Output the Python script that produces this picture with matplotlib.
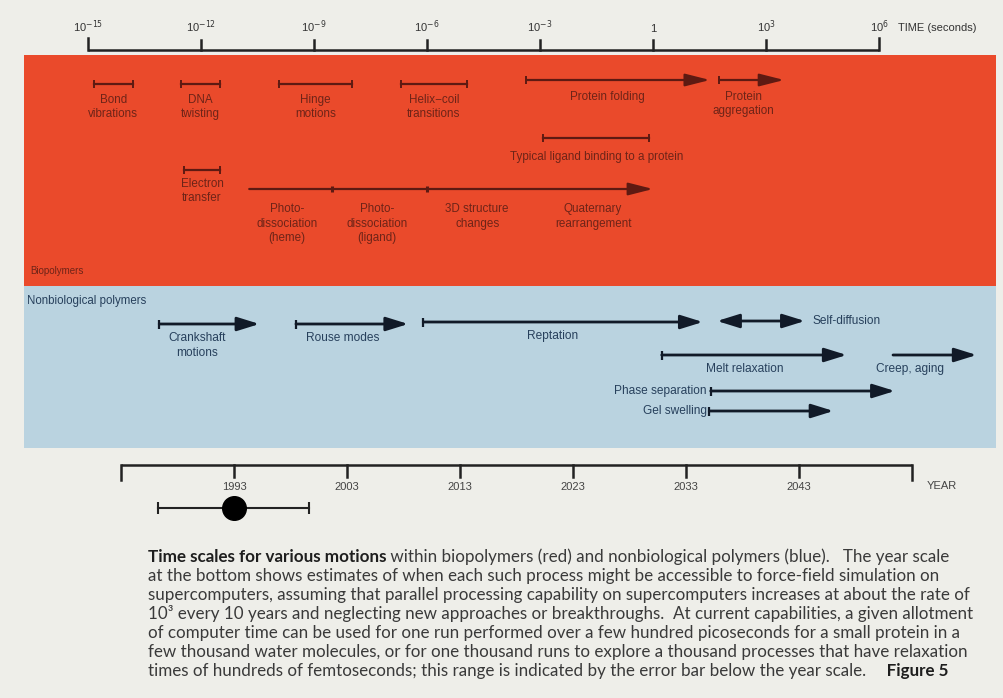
import numpy as np
import matplotlib
matplotlib.use('Agg')
import matplotlib.pyplot as plt
from matplotlib.patches import Rectangle

# ---------------- data (time exponents: log10 seconds) ----------------
time_tick_exp = [-15, -12, -9, -6, -3, 0, 3, 6]
time_tick_labels = ['10$^{-15}$', '10$^{-12}$', '10$^{-9}$', '10$^{-6}$',
                    '10$^{-3}$', '1', '10$^{3}$', '10$^{6}$']

# biopolymers: (start, end) exponents
bio_bar_names = ['Bond\nvibrations', 'DNA\ntwisting', 'Hinge\nmotions',
                 'Helix\u2212coil\ntransitions', 'Typical ligand binding to a protein',
                 'Electron\ntransfer']
bio_bar_start = [-14.84, -12.54, -9.94, -6.69, -2.91, -12.45]
bio_bar_end = [-13.81, -11.50, -7.99, -4.95, -0.10, -11.50]

bio_arrow_names = ['Protein folding', 'Protein\naggregation']
bio_arrow_start = [-3.36, 1.76]
bio_arrow_end = [1.51, 3.48]
bio_arrow_label_x = [-1.22, 2.39]

chain_names = ['Photo-\ndissociation\n(heme)', 'Photo-\ndissociation\n(ligand)',
               '3D structure\nchanges', 'Quaternary\nrearrangement']
chain_breaks = [-10.72, -8.53, -6.01, 0.0]
chain_label_x = [-9.72, -7.33, -4.67, -1.59]

# nonbiological polymers
nb_names = ['Crankshaft\nmotions', 'Rouse modes', 'Reptation', 'Self-diffusion',
            'Melt relaxation', 'Creep, aging', 'Phase separation', 'Gel swelling']
nb_start = [-13.11, -9.48, -6.10, 1.70, 0.23, 6.37, 1.53, 1.49]
nb_end = [-10.45, -6.50, 1.32, 4.03, 5.14, 8.59, 6.42, 4.79]
nb_label_x = [-12.11, -8.23, -2.68, 4.22, 2.44, 6.82, 1.43, 1.43]

# year scale
year_ticks = [1993, 2003, 2013, 2023, 2033, 2043]
year_ends = [1983, 2053]
year_1993_exp = -11.124          # time exponent aligned with 1993
decades_per_year = 0.3           # 10^3 every 10 years
err_center_year = 1993
err_low_year = 1986.3
err_high_year = 1999.6

caption_lines = [
    ('Time scales for various motions', ' within biopolymers (red) and nonbiological polymers (blue).   The year scale', ''),
    ('', 'at the bottom shows estimates of when each such process might be accessible to force-field simulation on', ''),
    ('', 'supercomputers, assuming that parallel processing capability on supercomputers increases at about the rate of', ''),
    ('', '10\u00b3 every 10 years and neglecting new approaches or breakthroughs.  At current capabilities, a given allotment', ''),
    ('', 'of computer time can be used for one run performed over a few hundred picoseconds for a small protein in a', ''),
    ('', 'few thousand water molecules, or for one thousand runs to explore a thousand processes that have relaxation', ''),
    ('', 'times of hundreds of femtoseconds; this range is indicated by the error bar below the year scale.', '     Figure 5'),
]

# ---------------- layout ----------------
W, H = 1004, 698
PX_PER_DEC = 37.67
X0 = 88
BG = '#eeeee9'
RED = '#ea4a2b'
BLUE = '#bad3e0'
RED_INK = '#5e1a12'
RED_TXT = '#6e2418'
BLUE_INK = '#111a28'
BLUE_TXT = '#27405c'
GRAY = '#3a3a3a'

plt.rcParams['font.family'] = ['Liberation Sans', 'DejaVu Sans']

fig = plt.figure(figsize=(W / 100, H / 100), dpi=100)
fig.patch.set_facecolor(BG)
ax = fig.add_axes([0, 0, 1, 1])
ax.set_facecolor(BG)
ax.set_xscale('log')
ax.set_xlim(10 ** (-15 - X0 / PX_PER_DEC), 10 ** (-15 + (W - X0) / PX_PER_DEC))
ax.set_ylim(H, 0)
ax.axis('off')

T = lambda e: 10.0 ** np.asarray(e, dtype=float)
def year_t(y):
    return T(year_1993_exp + (np.asarray(y, dtype=float) - 1993) * decades_per_year)

def px2t(px):
    return 10 ** (-15 + (px - X0) / PX_PER_DEC)

# bands
ax.add_patch(Rectangle((px2t(24), 55), px2t(996) - px2t(24), 231, facecolor=RED,
                       edgecolor='none', zorder=0))
ax.add_patch(Rectangle((px2t(24), 286), px2t(996) - px2t(24), 162, facecolor=BLUE,
                       edgecolor='none', zorder=0))

# ---------------- top time axis ----------------
tt = T(time_tick_exp)
ax.plot([tt[0], tt[-1]], [50, 50], color='#222222', lw=1.8, solid_capstyle='butt')
for i, (t, lab) in enumerate(zip(tt, time_tick_labels)):
    top = 38 if i in (0, len(tt) - 1) else 40
    ax.plot([t, t], [50, top], color='#222222', lw=1.8)
    ax.text(t, 32, lab, ha='center', va='baseline', fontsize=8, color='#333333')
ax.text(px2t(898), 31, 'TIME (seconds)', ha='left', va='baseline', fontsize=8, color='#333333')

# ---------------- helpers ----------------
def cap(t, y, color, h=4, lw=1.4):
    ax.plot([t, t], [y - h, y + h], color=color, lw=lw, solid_capstyle='butt')

def arrow(t0, t1, y, color, lw=1.5, style='-|>', hl=1.5, hw=0.38):
    ax.annotate('', xy=(t1, y), xytext=(t0, y),
                arrowprops=dict(arrowstyle=f'{style},head_length={hl},head_width={hw}',
                                color=color, lw=lw, shrinkA=0, shrinkB=0,
                                mutation_scale=10))

RFS = 8.4
# ---------------- biopolymers ----------------
bar_y = [84, 84, 84, 84, 138, 170]
bar_ly = [94, 94, 94, 94, 151, 178]
for name, s, e, y, ly in zip(bio_bar_names, bio_bar_start, bio_bar_end, bar_y, bar_ly):
    ts, te = T(s), T(e)
    ax.plot([ts, te], [y, y], color=RED_INK, lw=1.6)
    cap(ts, y, RED_INK); cap(te, y, RED_INK)
    ax.text(np.sqrt(ts * te), ly, name, ha='center', va='top', fontsize=RFS,
            color=RED_TXT, linespacing=1.25)

for name, s, e, lx in zip(bio_arrow_names, bio_arrow_start, bio_arrow_end, bio_arrow_label_x):
    ts, te = T(s), T(e)
    arrow(ts, te, 80, RED_INK, lw=1.6)
    cap(ts, 80, RED_INK)
    ax.text(T(lx), 91, name, ha='center', va='top', fontsize=RFS, color=RED_TXT,
            linespacing=1.25)

cb = T(chain_breaks)
arrow(cb[0], cb[-1], 189, RED_INK, lw=1.6)
for t in cb[1:-1]:
    cap(t, 189, RED_INK, h=3, lw=2.2)
for name, lx in zip(chain_names, chain_label_x):
    ax.text(T(lx), 203, name, ha='center', va='top', fontsize=RFS, color=RED_TXT,
            linespacing=1.3)

ax.text(px2t(30), 271, 'Biopolymers', ha='left', va='center', fontsize=7, color=RED_TXT)

# ---------------- nonbiological polymers ----------------
ax.text(px2t(27), 301, 'Nonbiological polymers', ha='left', va='center', fontsize=8.3,
        color=BLUE_TXT)
nb_y = [324, 324, 322, 321, 355, 355, 391, 411]
nb_cap = [True, True, True, False, True, False, True, True]
nb_style = ['-|>', '-|>', '-|>', '<|-|>', '-|>', '-|>', '-|>', '-|>']
nb_lpos = ['below', 'below', 'below', 'right', 'below', 'below', 'left', 'left']
for name, s, e, lx, y, c, st, lp in zip(nb_names, nb_start, nb_end, nb_label_x,
                                          nb_y, nb_cap, nb_style, nb_lpos):
    ts, te = T(s), T(e)
    arrow(ts, te, y, BLUE_INK, lw=2.0, style=st, hl=1.35, hw=0.42)
    if c:
        cap(ts, y, BLUE_INK, h=4.5, lw=1.6)
    if lp == 'below':
        ax.text(T(lx), y + 8, name, ha='center', va='top', fontsize=8.6, color=BLUE_TXT,
                linespacing=1.3)
    elif lp == 'right':
        ax.text(T(lx), y, name, ha='left', va='center', fontsize=8.6, color=BLUE_TXT)
    else:
        ax.text(T(lx), y, name, ha='right', va='center', fontsize=8.6, color=BLUE_TXT)

# ---------------- year axis ----------------
ye = year_t(year_ends)
ax.plot([ye[0], ye[1]], [465, 465], color='#222222', lw=1.8, solid_capstyle='butt')
for t in ye:
    ax.plot([t, t], [465, 480], color='#222222', lw=1.8)
for yr, t in zip(year_ticks, year_t(year_ticks)):
    ax.plot([t, t], [465, 477], color='#222222', lw=1.8)
    ax.text(t, 487, str(yr), ha='center', va='center', fontsize=8, color='#444444')
ax.text(px2t(927), 486, 'YEAR', ha='left', va='center', fontsize=8, color='#444444')

el, eh, ec = year_t([err_low_year, err_high_year, err_center_year])
ax.plot([el, eh], [508, 508], color='#222222', lw=1.5)
cap(el, 508, '#222222', h=6, lw=1.5)
cap(eh, 508, '#222222', h=6, lw=1.5)
ax.plot([ec], [508], marker='o', markersize=17, color='black', zorder=5)

# ---------------- caption ----------------
cap_font = ['Lato', 'DejaVu Sans']
CFS = 12.25
y0 = 562
for i, (b, r, b2) in enumerate(caption_lines):
    y = 1 - (y0 + i * 19.0) / H
    x = 148 / W
    prev = None
    for txt, wt in ((b, 'bold'), (r, 'normal'), (b2, 'bold')):
        if not txt:
            continue
        col = '#1e1e1e' if wt == 'bold' else GRAY
        if prev is None:
            prev = fig.text(x, y, txt, ha='left', va='baseline', fontsize=CFS,
                            family=cap_font, weight=wt, color=col)
        else:
            prev = ax.annotate(txt, xy=(1, 0), xycoords=prev, ha='left', va='bottom',
                               fontsize=CFS, family=cap_font, weight=wt, color=col,
                               annotation_clip=False)

fig.savefig('out.png', dpi=100, facecolor=BG)
